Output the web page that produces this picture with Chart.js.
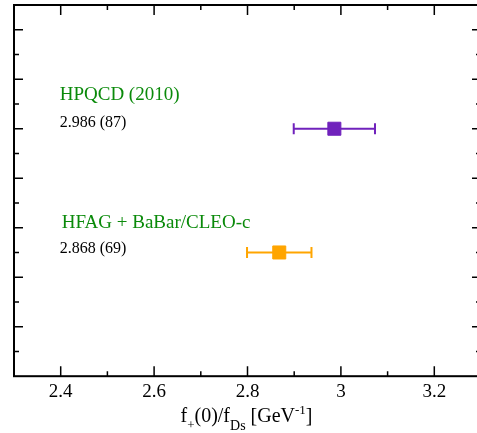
<!DOCTYPE html>
<html><head><meta charset="utf-8">
<script src="https://cdn.jsdelivr.net/npm/chart.js@4"></script>
<style>
html,body{margin:0;padding:0;background:#fff;overflow:hidden}
canvas{display:block}
</style>
</head><body><canvas id="c" width="477" height="433"></canvas>
<script>
// ---- data ----
const experiments = ['HPQCD (2010)', 'HFAG + BaBar/CLEO-c'];
const resultTexts = ['2.986 (87)', '2.868 (69)'];
const centralValues = [2.986, 2.868];
const errorValues = [0.087, 0.069];
const rowPositions = [5, 2.5];
const seriesColors = ['#7022bc', '#ffa500'];
const xMajorTicks = [2.4, 2.6, 2.8, 3.0, 3.2];
const xMinorTicks = [2.5, 2.7, 2.9, 3.1];
const yMajorTicks = [1, 2, 3, 4, 5, 6, 7];
const yMinorTicks = [0.5, 1.5, 2.5, 3.5, 4.5, 5.5, 6.5];
const xRange = [2.3, 3.3];
const yRange = [0, 7.5];

// ---- layout / style (not data) ----
const SERIF = '"Liberation Serif", "DejaVu Serif", serif';
const labelColor = '#0a8a0a';
const RIGHT_OVERHANG = 4; // plot frame continues slightly past the canvas edge
const textLayout = [
  {labelDx: -1, labelDy: -29, valueDx: -1, valueDy: -2},
  {labelDx: 1, labelDy: -24, valueDx: -1, valueDy: 1}
];

const decor = {
  id: 'decor',
  afterLayout(chart) {
    const a = chart.chartArea, x = chart.scales.x;
    a.right += RIGHT_OVERHANG;
    a.width = a.right - a.left;
    x.right = a.right;
    x.width = x.right - x.left;
    x.configure();
    x._labelItems = null;
  },
  beforeDatasetsDraw(chart) {
    const {ctx, scales: {x, y}} = chart;
    ctx.save();
    centralValues.forEach((v, i) => {
      const py = y.getPixelForValue(rowPositions[i]);
      const x0 = x.getPixelForValue(v - errorValues[i]);
      const x1 = x.getPixelForValue(v + errorValues[i]);
      ctx.strokeStyle = seriesColors[i];
      ctx.lineWidth = 2;
      ctx.beginPath();
      ctx.moveTo(x0, py); ctx.lineTo(x1, py);
      ctx.moveTo(x0, py - 5.5); ctx.lineTo(x0, py + 5.5);
      ctx.moveTo(x1, py - 5.5); ctx.lineTo(x1, py + 5.5);
      ctx.stroke();
    });
    ctx.restore();
  },
  afterDraw(chart) {
    const {ctx, chartArea: a, scales: {x, y}} = chart;
    ctx.save();
    // frame
    ctx.strokeStyle = '#000';
    ctx.lineWidth = 2;
    ctx.strokeRect(a.left, a.top, a.right - a.left, a.bottom - a.top);
    // ticks (inward, on all four sides)
    ctx.lineWidth = 1.5;
    ctx.beginPath();
    const xt = (arr, len) => arr.forEach(v => {
      const px = x.getPixelForValue(v);
      ctx.moveTo(px, a.bottom); ctx.lineTo(px, a.bottom - len);
      ctx.moveTo(px, a.top); ctx.lineTo(px, a.top + len);
    });
    const yt = (arr, len) => arr.forEach(v => {
      const py = y.getPixelForValue(v);
      ctx.moveTo(a.left, py); ctx.lineTo(a.left + len, py);
      ctx.moveTo(a.right, py); ctx.lineTo(a.right - len, py);
    });
    xt(xMajorTicks, 10); xt(xMinorTicks, 5);
    yt(yMajorTicks, 9); yt(yMinorTicks, 5);
    ctx.stroke();
    // annotations
    ctx.textBaseline = 'alphabetic';
    ctx.textAlign = 'left';
    const xl = x.getPixelForValue(xMajorTicks[0]);
    experiments.forEach((name, i) => {
      const py = y.getPixelForValue(rowPositions[i]);
      const L = textLayout[i];
      ctx.fillStyle = labelColor;
      ctx.font = '19px ' + SERIF;
      ctx.fillText(name, xl + L.labelDx, py + L.labelDy);
      ctx.fillStyle = '#000';
      ctx.font = '16px ' + SERIF;
      ctx.fillText(resultTexts[i], xl + L.valueDx, py + L.valueDy);
    });
    // axis title with sub/superscripts
    const segs = [
      {t: 'f', s: 20, dy: 0},
      {t: '+', s: 13, dy: 7},
      {t: '(0)/f', s: 20, dy: 0},
      {t: 'Ds', s: 14, dy: 8},
      {t: ' [GeV', s: 20, dy: 0},
      {t: '-1', s: 13, dy: -8},
      {t: ']', s: 20, dy: 0}
    ];
    let total = 0;
    segs.forEach(sg => { ctx.font = sg.s + 'px ' + SERIF; sg.w = ctx.measureText(sg.t).width; total += sg.w; });
    let cx = (a.left + a.right) / 2 - total / 2 - 1;
    const base = chart.height - 11;
    ctx.fillStyle = '#000';
    segs.forEach(sg => {
      ctx.font = sg.s + 'px ' + SERIF;
      ctx.fillText(sg.t, cx, base + sg.dy);
      cx += sg.w;
    });
    ctx.restore();
  }
};

new Chart(document.getElementById('c'), {
  type: 'scatter',
  data: {
    datasets: [{
      data: centralValues.map((v, i) => ({x: v, y: rowPositions[i]})),
      pointStyle: 'rect',
      pointRadius: 9.2,
      pointHoverRadius: 9.2,
      backgroundColor: seriesColors,
      borderColor: seriesColors,
      borderWidth: 1
    }]
  },
  options: {
    responsive: false,
    animation: false,
    events: [],
    layout: {autoPadding: false, padding: {top: 5, left: 14, right: 0, bottom: 26}},
    plugins: {legend: {display: false}, tooltip: {enabled: false}},
    scales: {
      x: {
        type: 'linear', min: xRange[0], max: xRange[1],
        afterBuildTicks: s => { s.ticks = xMajorTicks.map(v => ({value: v})); },
        grid: {display: false, drawTicks: false},
        border: {display: false},
        ticks: {padding: 4, color: '#000', font: {family: SERIF, size: 19}, callback: v => String(v)}
      },
      y: {
        type: 'linear', min: yRange[0], max: yRange[1], display: false
      }
    }
  },
  plugins: [decor]
});
</script>
</body></html>
